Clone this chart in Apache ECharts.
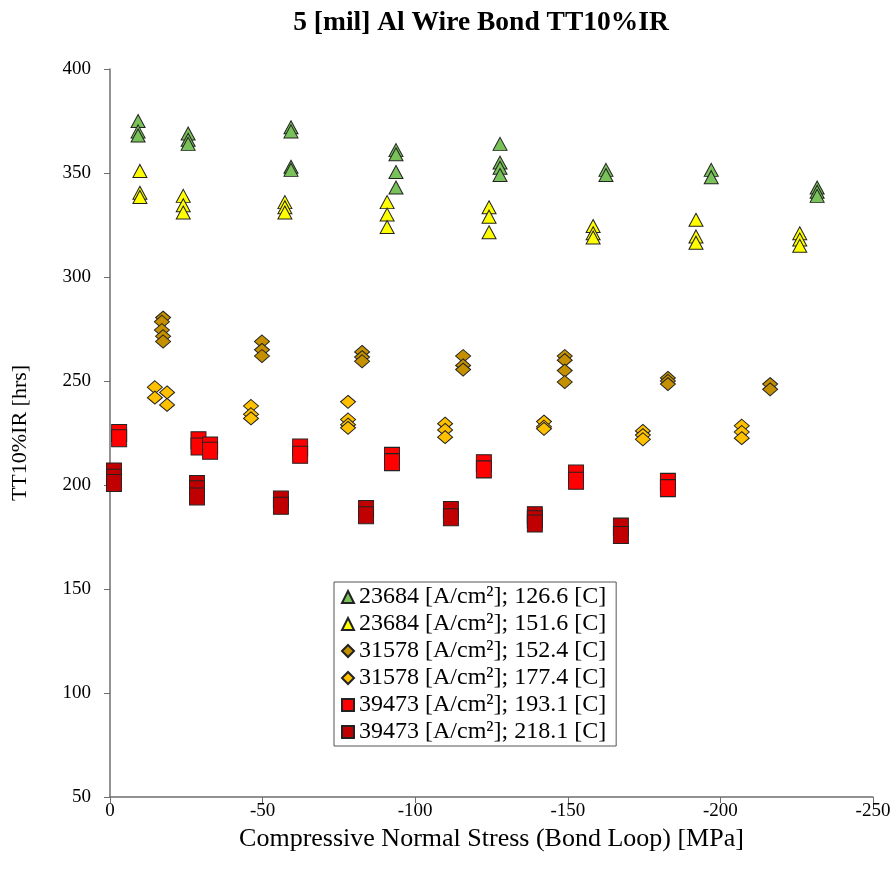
<!DOCTYPE html>
<html>
<head>
<meta charset="utf-8">
<script src="https://cdn.jsdelivr.net/npm/echarts@6/dist/echarts.min.js"></script>
<style>
  html, body { margin: 0; padding: 0; background: #fff; }
  #chart { width: 896px; height: 877px; }
</style>
</head>
<body>
<div id="chart"></div>
<script>
// Compressive normal stress [MPa] vs. TT10%IR [hrs], one list of [stress, hours] per test condition
const s23684_126 = [
  [-9.2, 375], [-9.2, 370], [-9.2, 368],
  [-25.6, 369], [-25.6, 366], [-25.6, 364],
  [-59.3, 372], [-59.3, 370], [-59.3, 353], [-59.3, 351.5],
  [-93.7, 361], [-93.7, 359], [-93.7, 350.5], [-93.7, 343],
  [-127.8, 364], [-127.8, 355], [-127.8, 352.5], [-127.8, 349],
  [-162.5, 351.5], [-162.5, 349],
  [-197, 351.5], [-197, 348],
  [-231.7, 343], [-231.7, 341], [-231.7, 339]
];
const s23684_151 = [
  [-9.8, 351], [-9.8, 340.5], [-9.8, 338.5],
  [-24, 339], [-24, 334.5], [-24, 331],
  [-57.3, 336], [-57.3, 333.5], [-57.3, 331],
  [-90.8, 336], [-90.8, 330], [-90.8, 324],
  [-124.2, 333.5], [-124.2, 329], [-124.2, 321.5],
  [-158.3, 324.5], [-158.3, 321], [-158.3, 319],
  [-192, 327.5], [-192, 319.5], [-192, 316.5],
  [-226, 321], [-226, 318], [-226, 315]
];
const s31578_152 = [
  [-17.4, 280.5], [-17, 278.5], [-17, 274.5], [-17.4, 271.5], [-17.4, 269],
  [-49.8, 269], [-49.8, 265], [-49.8, 262],
  [-82.6, 264], [-82.6, 261.5], [-82.6, 259.5],
  [-115.7, 262], [-115.7, 257.5], [-115.7, 255.5],
  [-149, 262], [-149, 260], [-149, 255], [-149, 249.5],
  [-182.8, 251.5], [-182.8, 250], [-182.8, 248.5],
  [-216.3, 248.5], [-216.3, 246]
];
const s31578_177 = [
  [-14.7, 247], [-14.7, 242], [-18.7, 244.5], [-18.7, 238.5],
  [-46.2, 238], [-46.2, 234], [-46.2, 232],
  [-78, 240], [-78, 231.5], [-78, 229], [-78, 227.5],
  [-109.8, 229.5], [-109.8, 226.5], [-109.8, 223],
  [-142.2, 230.5], [-142.2, 228], [-142.2, 227],
  [-174.6, 226], [-174.6, 224], [-174.6, 222],
  [-207, 228.5], [-207, 225.5], [-207, 222.5]
];
const s39473_193 = [
  [-3, 225], [-3, 222.5],
  [-29, 221.5], [-29, 218.5],
  [-32.8, 219], [-32.8, 216.5],
  [-62.3, 218], [-62.3, 214.5],
  [-92.4, 214], [-92.4, 211],
  [-122.5, 210.5], [-122.5, 207.5],
  [-152.7, 205.5], [-152.7, 202],
  [-182.8, 201.5], [-182.8, 198.5]
];
const s39473_218 = [
  [-1.3, 206.5], [-1.3, 203.5], [-1.3, 201],
  [-28.5, 200.5], [-28.5, 198], [-28.5, 194.5],
  [-56, 193], [-56, 190],
  [-83.9, 188.5], [-83.9, 185.5],
  [-111.7, 188], [-111.7, 184.5],
  [-139.2, 185.5], [-139.2, 183.5], [-139.2, 181.5],
  [-167.4, 180], [-167.4, 176]
];

const seriesNames = [
  '23684 [A/cm²]; 126.6 [C]',
  '23684 [A/cm²]; 151.6 [C]',
  '31578 [A/cm²]; 152.4 [C]',
  '31578 [A/cm²]; 177.4 [C]',
  '39473 [A/cm²]; 193.1 [C]',
  '39473 [A/cm²]; 218.1 [C]'
];
const seriesData = [s23684_126, s23684_151, s31578_152, s31578_177, s39473_193, s39473_218];
const seriesColors = ['#79c25a', '#ffff00', '#c49000', '#ffc000', '#ff0000', '#c00000'];
const seriesSymbols = ['triangle', 'triangle', 'diamond', 'diamond', 'rect', 'rect'];
const seriesSizes = [[14, 13], [14, 13], [15, 13], [15, 13], [15, 17], [15, 17]];

const font = '"Liberation Serif", "Times New Roman", serif';
const axisColor = '#6e6e6e';

const chart = echarts.init(document.getElementById('chart'), null, { renderer: 'canvas' });

chart.setOption({
  animation: false,
  backgroundColor: '#ffffff',
  title: {
    text: '5 [mil] Al Wire Bond TT10%IR',
    left: 476,
    textAlign: 'center',
    top: 4,
    textStyle: { fontFamily: font, fontSize: 27.5, fontWeight: 'bold', color: '#000' }
  },
  legend: {
    orient: 'vertical',
    left: 334,
    top: 582,
    padding: [3, 10, 2, 7],
    itemGap: 3,
    itemWidth: 12,
    itemHeight: 12,
    borderColor: '#555',
    borderWidth: 1,
    backgroundColor: '#fff',
    textStyle: { fontFamily: font, fontSize: 24, color: '#000' },
    data: seriesNames
  },
  grid: { left: 110, right: 23, top: 69, bottom: 80 },
  xAxis: {
    type: 'value',
    min: -250,
    max: 0,
    interval: 50,
    inverse: true,
    name: 'Compressive Normal Stress (Bond Loop) [MPa]',
    nameLocation: 'middle',
    nameGap: 17,
    nameTextStyle: { fontFamily: font, fontSize: 26, color: '#000' },
    axisLine: { show: true, onZero: false, lineStyle: { color: axisColor, width: 1.5 } },
    axisTick: { show: true, inside: false, length: 6, lineStyle: { color: axisColor } },
    axisLabel: { fontFamily: font, fontSize: 19, color: '#000', margin: 5 },
    splitLine: { show: false }
  },
  yAxis: {
    type: 'value',
    min: 50,
    max: 400,
    interval: 50,
    name: 'TT10%IR [hrs]',
    nameLocation: 'middle',
    nameGap: 79,
    nameTextStyle: { fontFamily: font, fontSize: 22, color: '#000' },
    axisLine: { show: true, onZero: false, lineStyle: { color: axisColor, width: 1.5 } },
    axisTick: { show: true, inside: false, length: 6, lineStyle: { color: axisColor } },
    axisLabel: { fontFamily: font, fontSize: 19, color: '#000', margin: 19 },
    splitLine: { show: false }
  },
  series: seriesNames.map((name, i) => ({
    name: name,
    type: 'scatter',
    data: seriesData[i],
    symbol: seriesSymbols[i],
    symbolSize: seriesSizes[i],
    itemStyle: {
      color: seriesColors[i],
      opacity: 1,
      borderColor: '#222',
      borderWidth: 1
    }
  }))
});
</script>
</body>
</html>
